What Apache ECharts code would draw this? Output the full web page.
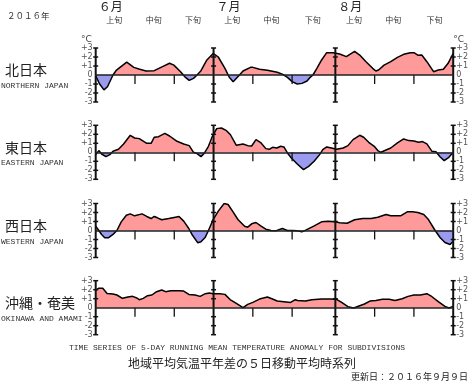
<!DOCTYPE html>
<html><head><meta charset="utf-8">
<script src="https://cdn.jsdelivr.net/npm/echarts@6/dist/echarts.min.js"></script>
<style>html,body{margin:0;padding:0;background:#fff}#c{width:471px;height:382px}</style>
</head><body><div id="c"></div>
<script>
// ---- data (day index: 0 = June 1, 91 = Aug 31) ----
const regionNames = ['北日本','東日本','西日本','沖縄・奄美'];
const regionEnglish = ['NORTHERN JAPAN','EASTERN JAPAN','WESTERN JAPAN','OKINAWA AND AMAMI'];
const monthLabels = ['６月','７月','８月'];
const monthStartDays = [0,30,61];
const monthLineDays = [0,30,61,91];
const decadeLabels = ['上旬','中旬','下旬'];
const decadeBounds = [0,10,20,30,40,50,61,71,81,92];
const decadeTickDays = [10,20,40,50,71,81];
const yTicks = [-3,-2,-1,0,1,2,3];

const northern = [[0,-0.1],[1,-1.0],[2.1,-1.65],[3,-1.3],[4.4,0],[5.3,0.55],[7.9,1.44],[9.7,0.85],[11,0.67],[12.8,0.44],[14.9,0.48],[17,0.93],[18.8,1.3],[19.9,1.1],[21.6,0.37],[22.7,-0.2],[23.8,-0.6],[24.9,-0.37],[25.8,0],[26.8,0.48],[28.3,1.67],[29.9,2.4],[31.2,2.0],[32.9,0.74],[34,-0.25],[35,-0.75],[36.6,0],[37.5,0.44],[39.4,0.85],[40,0.85],[41.7,0.63],[43.7,0.52],[46.2,0.3],[47.5,0.1],[48.8,-0.26],[50,-0.74],[51.3,-1.0],[52.5,-0.93],[53.8,-0.67],[54.6,-0.26],[55.3,0],[56.3,0.74],[57.5,1.67],[58.8,2.48],[60.5,2.48],[62.1,2.33],[63.8,2.04],[64.8,2.33],[65.9,2.63],[67.2,2.22],[68.8,1.48],[70.5,0.74],[71.3,0.44],[72,0.55],[73.4,1.1],[75.1,1.48],[76.8,1.96],[78.4,2.3],[80.1,2.48],[81,2.48],[82,2.2],[83,2.22],[84.3,1.48],[86,0.37],[87.2,0.55],[88.5,0.63],[89.7,1.3],[91,2.4]];
const eastern = [[0,-0.26],[0.8,0.19],[1.5,-0.19],[2.6,-0.48],[3.6,-0.26],[4.4,0.11],[4.8,0.3],[5.8,0.33],[7.1,0.93],[8.8,1.89],[9.9,1.59],[11.1,1.52],[13,1.0],[14.1,1.0],[14.9,1.67],[16,1.74],[17.6,2.11],[18.8,1.81],[20.7,1.22],[22.4,0.93],[23.8,0.74],[24.9,0],[25.8,-0.15],[26.8,-0.48],[27.7,-0.07],[28.7,0.67],[29.7,1.78],[30.8,2.63],[32,2.7],[33.3,2.4],[34.3,1.95],[35.8,0.78],[37.5,0.93],[38.7,0.74],[39.7,0.7],[40.8,1.41],[42.1,1.04],[43.3,0.41],[44.2,0.33],[45,0.56],[46.1,0.48],[47.1,0.67],[47.9,0.59],[48.8,-0.07],[49.8,-0.63],[51.3,-1.3],[52.9,-1.93],[54.2,-1.56],[55.6,-1.0],[57,-0.26],[57.8,0.3],[58.8,0.59],[60,0.48],[61.3,0.33],[63,0.48],[64.2,0.74],[65.5,1.41],[67.2,1.89],[68.2,1.67],[69.5,1.11],[70.9,0.67],[71.8,0.19],[72.6,0],[73.9,0.26],[75.1,0.48],[76.8,1.04],[78.4,1.48],[79.7,1.3],[81,1.26],[82.2,1.11],[83.2,1.19],[84.3,0.93],[85.6,0.11],[86.6,0.07],[87.7,-0.52],[88.7,-0.93],[89.9,-0.56],[91,0]];
const western = [[0,0.48],[0.8,0],[1.5,-0.44],[2.3,-0.81],[3.2,-0.81],[4.4,-0.44],[5.4,0],[6.5,0.96],[7.8,1.7],[8.8,1.85],[9.9,1.63],[11.8,1.85],[13,1.56],[14.1,1.33],[14.9,1.56],[15.7,1.41],[16.8,1.19],[18.6,1.33],[20.3,1.48],[21.2,1.56],[22.4,1.04],[23.7,0.22],[24.5,-0.44],[26,-1.37],[26.8,-1.26],[27.9,-0.74],[28.7,0],[29.9,1.22],[31.2,2.15],[32.7,3.0],[33.7,2.89],[35,2.05],[36.2,1.22],[37.9,0.48],[38.7,0.37],[39.7,0.74],[40.8,0.89],[42.1,0.48],[43.3,0.15],[44.6,0],[45.8,-0.04],[47.5,0.22],[48.8,0],[50,0],[51.3,-0.04],[52.5,-0.15],[53.6,0.07],[55.5,0.48],[57.5,0.96],[59.2,1.04],[60.9,0.96],[62.1,0.85],[64,0.81],[65.9,1.19],[68,1.33],[70.1,1.33],[71.8,1.48],[73.9,1.78],[75.1,1.63],[77.6,1.63],[79.3,2.07],[80.6,2.07],[82,2.0],[83.5,1.78],[84.7,1.22],[86.4,0],[87.7,-0.81],[88.9,-1.33],[90.2,-1.56],[91,-1.2]];
const okinawa = [[0,1.96],[0.7,2.15],[1.8,2.15],[2.9,1.59],[4.4,1.52],[5.4,1.41],[6.8,1.04],[8.2,1.19],[9.4,1.26],[10.3,1.11],[11.1,0.89],[12.1,1.04],[13.2,1.33],[14.3,1.41],[15.5,1.78],[16.8,1.96],[17.8,1.78],[19.1,1.89],[21.2,1.89],[22.4,1.85],[23.7,1.48],[25.3,1.41],[26.6,1.26],[27.9,1.56],[28.9,1.63],[29.9,1.56],[31.6,1.56],[32.9,1.48],[34.2,0.9],[35.8,0.48],[37.5,0],[38.7,0.37],[40,0.59],[41.7,0.96],[43.7,1.19],[45,0.96],[46.2,0.74],[47.9,0.67],[49.6,0.59],[50.8,0.89],[51.4,0.81],[53.4,0.74],[55,0.89],[57.5,0.96],[59.6,0.96],[61.3,0.93],[62.6,0.59],[64.2,0.11],[65.7,-0.03],[67.2,0.22],[68.4,0.41],[69.8,0.74],[71.3,0.81],[73,0.93],[74.7,0.93],[76.2,0.81],[78,1.0],[79.5,1.26],[81,1.41],[82.6,1.41],[84.3,1.56],[85.6,1.22],[87.2,0.67],[88.9,0.15],[89.9,-0.03],[91,0.15]];
const regionData = [northern, eastern, western, okinawa];

// ---- layout ----
const gridTops = [48, 125.3, 203.5, 280.7];
const gridH = 54, gridLeft = 95.7, gridW = 362.6;
const POS = '#ff9a9a', NEG = '#9a9aee';
const mono = '"Liberation Mono", "DejaVu Sans Mono", monospace';
const cjk = '"Noto Sans CJK JP", sans-serif';

const chart = echarts.init(document.getElementById('c'), null, {renderer:'canvas'});

const grid = [], xAxis = [], yAxis = [], series = [], visualMap = [];
const guideData = monthLineDays.map(d => [d, 1]).concat(decadeTickDays.map(d => [d, 0]));
const yFmt = v => v > 0 ? '+' + v : String(v);

regionData.forEach((data, i) => {
  grid.push({left: gridLeft, top: gridTops[i], width: gridW, height: gridH, containLabel:false});
  xAxis.push({type:'value', gridIndex:i, min:0, max:91, z:5,
    axisLine:{show:true, onZero:true, lineStyle:{color:'#222', width:1.5}},
    axisTick:{show:false}, axisLabel:{show:false}, splitLine:{show:false}});
  const unit = i === 0 ? '°C' : '';
  const yBase = {type:'value', gridIndex:i, min:-3, max:3, interval:1,
    axisLine:{show:false}, axisTick:{show:false}, splitLine:{show:false},
    nameLocation:'end', nameGap:3};
  yAxis.push(Object.assign({}, yBase, {position:'left', name:unit,
    nameTextStyle:{align:'right', color:'#444', fontSize:9, fontFamily:'DejaVu Sans', padding:[0,4,0,0]},
    axisLabel:{formatter:yFmt, color:'#555', fontSize:8, margin:3, fontFamily:'DejaVu Sans'}}));
  yAxis.push(Object.assign({}, yBase, {position:'right', name:unit,
    nameTextStyle:{align:'left', color:'#444', fontSize:9, fontFamily:'DejaVu Sans', padding:[0,0,0,0]},
    axisLabel:{formatter:yFmt, color:'#555', fontSize:8, margin:3, fontFamily:'DejaVu Sans'}}));
  series.push({type:'line', xAxisIndex:i, yAxisIndex:2*i, data:data, showSymbol:false, symbol:'none',
    lineStyle:{color:'#000', width:1.5}, areaStyle:{opacity:1, origin:0}, z:2, animation:false, silent:true});
  visualMap.push({type:'piecewise', show:false, dimension:1, seriesIndex:i,
    pieces:[{gt:0, lte:10, color:POS},{gt:-10, lte:0, color:NEG}]});
});
regionData.forEach((d, i) => {
  series.push({type:'custom', xAxisIndex:i, yAxisIndex:2*i, data:guideData, z:4, silent:true, animation:false,
    renderItem:(params, api) => {
      const day = api.value(0), major = api.value(1);
      const children = [];
      if (major) {
        const top = api.coord([day, 3]), bot = api.coord([day, -3]);
        children.push({type:'line', shape:{x1:top[0], y1:top[1], x2:bot[0], y2:bot[1]}, style:{stroke:'#111', lineWidth:2}});
        yTicks.forEach(t => {
          if (t === 0) return;
          const p = api.coord([day, t]);
          children.push({type:'line', shape:{x1:p[0]-2.5, y1:p[1], x2:p[0]+2.5, y2:p[1]}, style:{stroke:'#111', lineWidth:1.5}});
        });
      } else {
        const a = api.coord([day, 0]), b = api.coord([day, -1]);
        children.push({type:'line', shape:{x1:a[0], y1:a[1], x2:b[0], y2:b[1]}, style:{stroke:'#111', lineWidth:1.3}});
      }
      return {type:'group', children};
    }});
});

chart.setOption({animation:false, grid, xAxis, yAxis, series, visualMap});

// ---- texts positioned from the axis scale ----
const gfx = [];
const px = d => chart.convertToPixel({gridIndex:0}, [d, 0])[0];
monthLabels.forEach((m, k) => {
  gfx.push({type:'text', x: px(monthStartDays[k]) + 15, y: 6,
    style:{text:m, font:'12px ' + cjk, fill:'#222', textAlign:'center', textVerticalAlign:'middle'}});
});
for (let k = 0; k < decadeBounds.length - 1; k++) {
  const c = (decadeBounds[k] + decadeBounds[k+1]) / 2;
  gfx.push({type:'text', x: px(c) - 1, y: 20,
    style:{text:decadeLabels[k % 3], font:'8px ' + cjk, fill:'#333', textAlign:'center', textVerticalAlign:'middle'}});
}
gfx.push({type:'text', x:7, y:16, style:{text:'２０１６年', font:'8.5px ' + cjk, fill:'#333', textAlign:'left', textVerticalAlign:'middle'}});
regionNames.forEach((n, i) => {
  const zeroY = chart.convertToPixel({gridIndex:i}, [0, 0])[1];
  gfx.push({type:'text', x:5, y: zeroY - 5, style:{text:n, font:'14px ' + cjk, fill:'#222', textAlign:'left', textVerticalAlign:'middle'}});
  gfx.push({type:'text', x:1, y: zeroY + 11, style:{text:regionEnglish[i], font:'8px ' + mono, fill:'#333', textAlign:'left', textVerticalAlign:'middle'}});
});
gfx.push({type:'text', x:237, y:348, style:{text:'TIME SERIES OF 5-DAY RUNNING MEAN TEMPERATURE ANOMALY FOR SUBDIVISIONS', font:'8px ' + mono, fill:'#333', textAlign:'center', textVerticalAlign:'middle'}});
gfx.push({type:'text', x:242, y:363, style:{text:'地域平均気温平年差の５日移動平均時系列', font:'12px ' + cjk, fill:'#222', textAlign:'center', textVerticalAlign:'middle'}});
gfx.push({type:'text', x:468, y:377, style:{text:'更新日：２０１６年９月９日', font:'9px ' + cjk, fill:'#222', textAlign:'right', textVerticalAlign:'middle'}});
chart.setOption({graphic: gfx});
</script></body></html>
